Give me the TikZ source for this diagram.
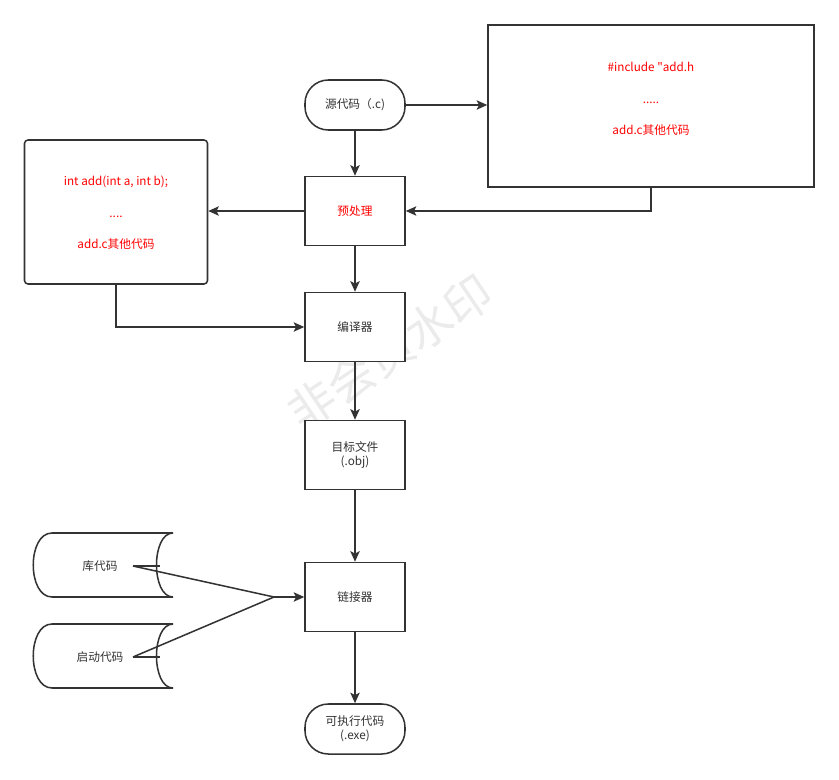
\documentclass[tikz,border=0pt]{standalone}
\usepackage{fontspec}
\setmainfont{Noto Sans CJK SC}[Ligatures=TeXOff]
\usetikzlibrary{arrows.meta}

\tikzset{
  every node/.style={font=\fontsize{10}{12}\selectfont, text=black!80},
  stepbox/.style={draw=black!80, line width=1.3pt, fill=white, minimum width=3cm, minimum height=2.07cm, align=center},
  pill/.style={draw=black!80, line width=1.3pt, fill=white, rounded corners=0.7cm, minimum width=3cm, minimum height=1.5cm, align=center},
  codebox/.style={draw=black!80, line width=1.3pt, fill=white},
  codetext/.style={text=red, align=center, font=\fontsize{10}{27}\selectfont},
  arr/.style={draw=black!80, line width=1.3pt, -{Stealth[length=9pt,width=8pt,inset=2pt]}},
  ln/.style={draw=black!80, line width=1.3pt}
}

\begin{document}
\begin{tikzpicture}[x=0.03cm,y=-0.03cm]
			\useasboundingbox (0,0) rectangle (839,779);
			
			% Watermark
			\node[rotate=34, text=black!8, font=\fontsize{40}{40}\selectfont] (wm) at (390,352) {非会员水印};
			
			% Main flow
			\node[pill] (src) at (355,105) {源代码（.c)};
			\node[stepbox, text=red] (pre) at (355,211) {预处理};
			\node[stepbox] (cmp) at (355,327) {编译器};
			\node[stepbox] (obj) at (355,455) {目标文件\\(.obj)};
			\node[stepbox] (lnk) at (355,597) {链接器};
			\node[pill] (exe) at (355,729) {可执行代码\\(.exe)};
			
			% Code boxes
			\node[codebox, minimum width=9.78cm, minimum height=4.86cm] (hdr) at (651,106) {};
			\node[codetext] (hdrtxt) at (651,99) {\#include "add.h\\.....\\add.c其他代码};
			\node[codebox, rounded corners=3pt, minimum width=5.49cm, minimum height=4.32cm] (decl) at (116,212) {};
			\node[codetext] (decltxt) at (116,213) {int add(int a, int b);\\....\\add.c其他代码};
			
			% Stored data shapes
			\foreach \name/\yc/\txt in {lib/565/库代码, boot/656/启动代码} {
				\draw[ln, fill=white] (173,\yc-32) -- (52,\yc-32)
					.. controls (27,\yc-32) and (27,\yc+32) .. (52,\yc+32) -- (173,\yc+32)
					.. controls (151,\yc+32) and (151,\yc-32) .. (173,\yc-32);
				\node (\name) at (100,\yc+1) {\txt};
				\coordinate (\name-end) at (133,\yc+1);
				\draw[ln] (\name-end) -- ++(27,0);
			}
			
			% Connectors
			\coordinate (join) at (274,597);
			\draw[arr] (src.east) -- (src.east -| hdr.west);
			\draw[arr] (src) -- (pre);
			\draw[arr] (hdr.south) |- (pre.east);
			\draw[arr] (pre.west) -- (pre.west -| decl.east);
			\draw[arr] (pre) -- (cmp);
			\draw[arr] (decl.south) |- (cmp.west);
			\draw[arr] (cmp) -- (obj);
			\draw[arr] (obj) -- (lnk);
			\draw[ln] (lib-end) -- (join);
			\draw[ln] (boot-end) -- (join);
			\draw[arr] (join) -- (lnk.west);
			\draw[arr] (lnk) -- (exe);
		\end{tikzpicture}
\end{document}
